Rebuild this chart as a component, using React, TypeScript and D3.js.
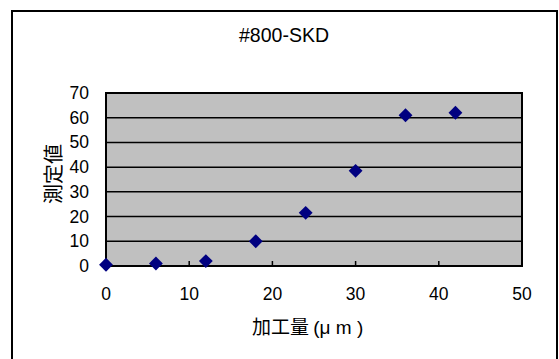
import React from "react";
import * as d3 from "d3";

const xValues = [0, 6, 12, 18, 24, 30, 36, 42];
const yValues = [0.5, 1, 2, 10, 21.5, 38.5, 61, 62];
const xTicks = [0, 10, 20, 30, 40, 50];
const yTicks = [0, 10, 20, 30, 40, 50, 60, 70];
const title = "#800-SKD";
const xLabelMain = "加工量 ";
const xLabelUnit = "(μ m )";
const yLabel = "測定値";

export default function App() {
  const W = 559, H = 359;
  const left = 106, right = 522, top = 93, bottom = 266;
  const x = d3.scaleLinear().domain([0, 50]).range([left, right]);
  const y = d3.scaleLinear().domain([0, 70]).range([bottom, top]);
  const font = "'Liberation Sans', Arial, sans-serif";
  const cjk = "'Noto Sans CJK JP', 'Noto Sans CJK SC', sans-serif";
  const diamond = d3.symbol().type(d3.symbolDiamond2).size(122)();
  return (
    <svg width={W} height={H} style={{ position: "absolute", left: 0, top: 0 }}>
      <rect x={0} y={0} width={W} height={H} fill="#fff" />
      <path d={`M12,${H + 2} V11 H557 V${H + 2}`} fill="none" stroke="#000" strokeWidth={2} />
      <text x={284} y={42} textAnchor="middle" fontFamily={font} fontSize={19.5}>{title}</text>
      <rect x={left} y={top} width={right - left} height={bottom - top} fill="#C0C0C0" />
      {yTicks.filter(t => t > 0 && t < 70).map(t => (
        <line key={t} x1={left} x2={right} y1={y(t)} y2={y(t)} stroke="#000" strokeWidth={1.5} />
      ))}
      {xTicks.filter(t => t > 0 && t < 50).map(t => (
        <line key={t} x1={x(t)} x2={x(t)} y1={bottom} y2={bottom - 5} stroke="#000" strokeWidth={1.5} />
      ))}
      <rect x={left} y={top} width={right - left} height={bottom - top} fill="none" stroke="#000" strokeWidth={2} />
      {yTicks.map(t => (
        <text key={t} x={89} y={y(t) + 6} textAnchor="end" fontFamily={font} fontSize={17.5}>{t}</text>
      ))}
      {xTicks.map(t => (
        <text key={t} x={x(t)} y={300} textAnchor="middle" fontFamily={font} fontSize={17.5}>{t}</text>
      ))}
      <text x={252} y={334} fontSize={19}>
        <tspan fontFamily={cjk}>{xLabelMain}</tspan>
        <tspan fontFamily={font}>{xLabelUnit}</tspan>
      </text>
      <text transform={`translate(61,174) rotate(-90)`} textAnchor="middle" fontFamily={cjk} fontSize={20}>{yLabel}</text>
      {xValues.map((v, i) => (
        <path key={i} d={diamond!} transform={`translate(${x(v)},${y(yValues[i])})`} fill="#000080" />
      ))}
    </svg>
  );
}
